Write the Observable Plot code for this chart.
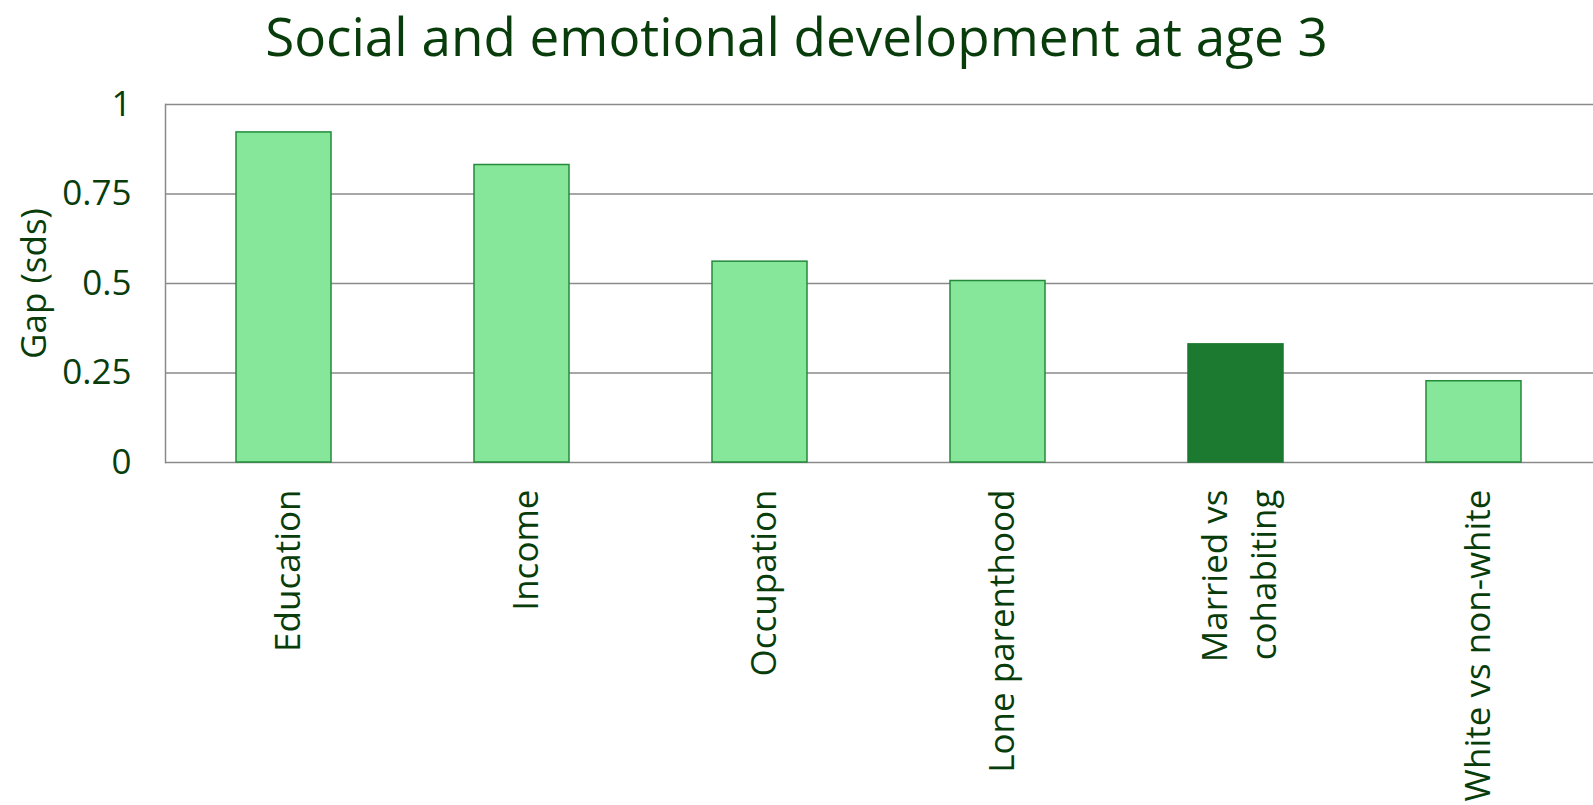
<!DOCTYPE html>
<html>
<head>
<meta charset="utf-8">
<script src="https://cdn.jsdelivr.net/npm/d3@7"></script>
<script src="https://cdn.jsdelivr.net/npm/@observablehq/plot@0.6"></script>
<style>
  html, body { margin: 0; padding: 0; background: #fff; }
  #title { font-family: "Open Sans", sans-serif; font-size: 53px; color: #083d0b; text-align: center; height: 80px; line-height: 72px; width: 1593px; white-space: nowrap; }
  svg { display: block; }
</style>
</head>
<body>
<div id="title">Social and emotional development at age 3</div>
<div id="chart"></div>
<script>
const categories = ["Education", "Income", "Occupation", "Lone parenthood", "Married vs\ncohabiting", "White vs non-white"];
const gaps = [0.922, 0.831, 0.561, 0.507, 0.330, 0.227];
const highlighted = ["Married vs\ncohabiting"];
const yTicks = [0, 0.25, 0.5, 0.75, 1];
const yTickLabels = ["0", "0.25", "0.5", "0.75", "1"];

const data = categories.map((c, i) => ({category: c, gap: gaps[i], hi: highlighted.includes(c)}));
const textColor = "#083d0b";

const chart = Plot.plot({
  width: 1593,
  height: 725,
  marginTop: 24,
  marginLeft: 165,
  marginRight: 0,
  marginBottom: 343,
  style: {fontFamily: "Open Sans, sans-serif", fontSize: "34px", color: textColor, background: "#fff"},
  x: {domain: categories, paddingInner: 0.6, paddingOuter: 0.3, label: null},
  y: {domain: [0, 1], label: null},
  marks: [
    Plot.gridY(yTicks, {stroke: "#8a8a8a", strokeOpacity: 1, strokeWidth: 1.5}),
    Plot.frame({anchor: "left", stroke: "#8a8a8a", strokeWidth: 1.5}),
    Plot.barY(data, {x: "category", y: "gap", fill: d => d.hi ? "#1b7a2f" : "#86e69a", stroke: d => d.hi ? "#1b7a2f" : "#238a3a", strokeWidth: 1.5}),
    Plot.axisY(yTicks, {tickSize: 0, tickPadding: 34, tickFormat: (d, i) => yTickLabels[i], fill: textColor, fontSize: 35}),
    Plot.axisX({tickSize: 0, tickRotate: -90, tickPadding: 27, fill: textColor, fontSize: 35, lineHeight: 1.4}),
    Plot.text(["Gap (sds)"], {frameAnchor: "left", textAnchor: "middle", dx: -131, rotate: -90, fill: textColor, fontSize: 35})
  ]
});
document.getElementById("chart").appendChild(chart);
</script>
</body>
</html>
